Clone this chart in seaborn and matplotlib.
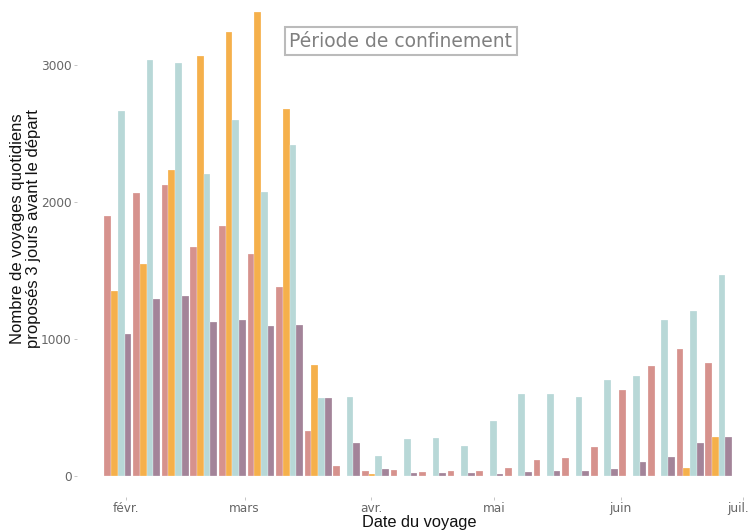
import numpy as np
import pandas as pd
import matplotlib
matplotlib.use("Agg")
import matplotlib.pyplot as plt
import matplotlib.transforms as mtransforms
import seaborn as sns

# ---- data ----
weeks = pd.date_range("2020-01-27", periods=22, freq="7D").strftime("%Y-%m-%d").tolist()
series_names = ["Série 1", "Série 2", "Série 3", "Série 4"]
serie_1 = [1895, 2063, 2126, 1674, 1825, 1620, 1380, 326, 75, 36, 41, 32,
           34, 36, 56, 114, 129, 212, 628, 801, 927, 827]
serie_2 = [1348, 1547, 2234, 3068, 3243, 3385, 2681, 808, 0, 12, 0, 0,
           0, 0, 0, 0, 0, 0, 0, 0, 56, 282]
serie_3 = [2661, 3034, 3012, 2204, 2599, 2075, 2414, 572, 575, 146, 268, 275,
           219, 404, 599, 596, 574, 703, 732, 1141, 1207, 1465]
serie_4 = [1040, 1290, 1316, 1126, 1137, 1097, 1102, 569, 238, 51, 20, 22,
           20, 15, 29, 36, 39, 54, 102, 136, 238, 282]
month_dates = ["2020-02-01", "2020-03-01", "2020-04-01", "2020-05-01",
               "2020-06-01", "2020-07-01"]
month_labels = ["févr.", "mars", "avr.", "mai", "juin", "juil."]
y_ticks = [0, 1000, 2000, 3000]
annotation = "Période de confinement"

colors = ["#D6928D", "#F5B04B", "#B8D8D7", "#A38499"]

rows = []
for name, vals in zip(series_names, [serie_1, serie_2, serie_3, serie_4]):
    for w, v in zip(weeks, vals):
        rows.append({"semaine": w, "valeur": v, "serie": name})
df = pd.DataFrame(rows)

sns.set_theme(style="white")
plt.rcParams["font.family"] = ["DejaVu Sans"]

fig = plt.figure(figsize=(7.51, 5.30), dpi=100)
# panel: left 77 px, right 745 px, top 0, bottom 497 px
ax = fig.add_axes([77 / 751, 33 / 530, 668 / 751, 497 / 530])

sns.barplot(data=df, x="semaine", y="valeur", hue="serie", order=weeks,
            hue_order=series_names, palette=colors, width=0.94, saturation=1,
            edgecolor=(1, 1, 1, 0.6), linewidth=0.3, legend=False, ax=ax)

# month ticks positioned on the weekly category scale (bar center = Monday + 3 days)
d0 = pd.Timestamp(weeks[0]) + pd.Timedelta(days=3)
tick_pos = [(pd.Timestamp(d) - d0).days / 7 for d in month_dates]
ax.set_xticks(tick_pos)
ax.set_xticklabels(month_labels)
ax.set_yticks(y_ticks)
ax.set_yticklabels([str(v) for v in y_ticks])

ax.set_xlim(-1.43, 21.92)
ax.set_ylim(-153, 3474)

for s in ax.spines.values():
    s.set_visible(False)

ax.tick_params(axis="both", which="major", length=2.5, width=0.6,
               color="#BBBBBB", labelcolor="#666666", labelsize=8.7,
               bottom=True, left=True)
ax.tick_params(axis="x", pad=1.2)
ax.tick_params(axis="y", pad=1.5)

# keep the last month label inside the figure edge
last = ax.get_xticklabels()[-1]
last.set_transform(last.get_transform() +
                   mtransforms.ScaledTranslation(-5 / 100, 0, fig.dpi_scale_trans))

ax.set_xlabel("Date du voyage", fontsize=11.8, family=["Liberation Sans"],
              color="#111111")
ax.set_ylabel("Nombre de voyages quotidiens\nproposés 3 jours avant le départ",
              fontsize=12, family=["Liberation Sans"], color="#111111",
              linespacing=1.05)
ax.yaxis.set_label_coords(-0.054, 0.54)
ax.xaxis.set_label_coords(0.512, -0.037)

ax.text(0.485, 0.9175, annotation, transform=ax.transAxes, ha="center",
        va="center", fontsize=13.5, color="#808080",
        bbox=dict(boxstyle="square,pad=0.22", facecolor="white",
                  edgecolor="#BBBBBB", linewidth=1.5))

fig.savefig("out.png", dpi=100)
